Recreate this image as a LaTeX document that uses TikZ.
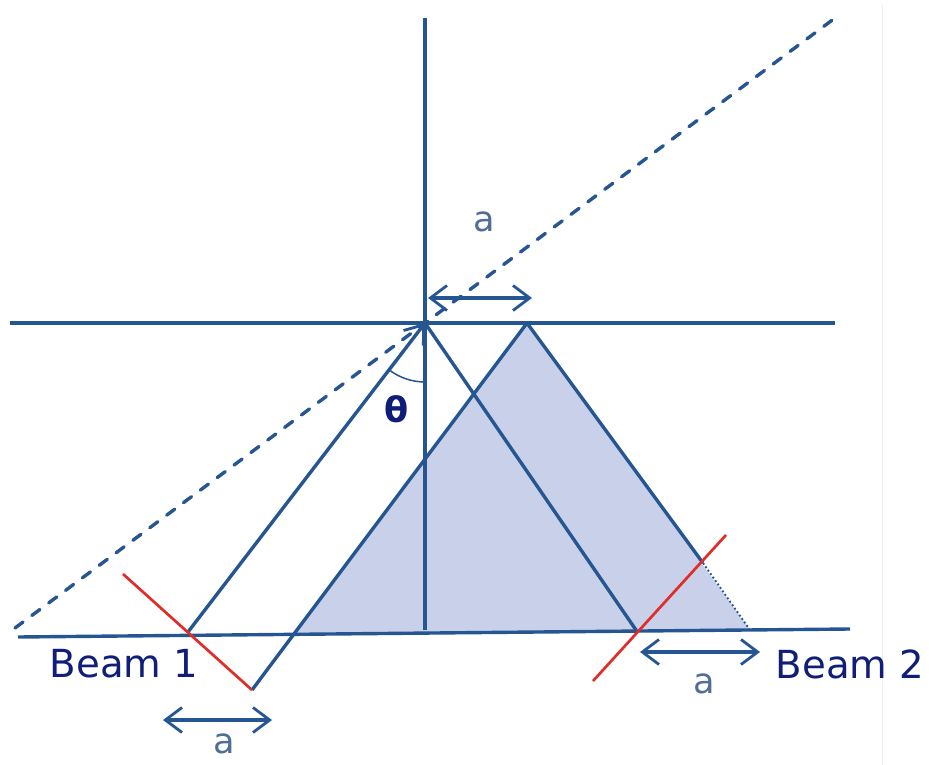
\documentclass[tikz,border=0pt]{standalone}
\usepackage{fontspec}
\setmainfont{DejaVu Sans}
\usetikzlibrary{arrows.meta}

\definecolor{beamblue}{RGB}{38,86,145}
\definecolor{navy}{RGB}{16,30,120}
\definecolor{prismfill}{RGB}{200,208,234}
\definecolor{cutred}{RGB}{225,45,40}
\definecolor{labelgrey}{RGB}{80,110,150}

\tikzset{
  barb/.tip={Straight Barb[length=5mm,width=7.5mm,line width=2.4pt]},
  ray/.style={draw=beamblue, line width=2.9pt},
  front/.style={draw=cutred, line width=2.3pt},
  span/.style={draw=beamblue, line width=2.9pt, barb-barb},
  lab/.style={text=labelgrey, font=\fontsize{30}{36}\selectfont},
  beam/.style={text=navy, font=\fontsize{33}{38}\selectfont}
}

\begin{document}
\begin{tikzpicture}[x=0.03cm,y=-0.03cm]
    \useasboundingbox (0,0) rectangle (929,765);

    % Axes and surfaces
    \coordinate (O) at (425,323);
    \coordinate (vtop) at (425,18);
    \coordinate (vfoot) at (425,630);
    \coordinate (hl) at (10,323);
    \coordinate (hr) at (835,323);
    \coordinate (bl) at (18,637);
    \coordinate (br) at (850,629);
    \coordinate (dl) at (15,628);
    \coordinate (dr) at (835,18);
    \coordinate (edge) at (882,5);
    \coordinate (edgefoot) at (882,765);

    % Shaded triangle
    \coordinate (P) at (527,323);
    \coordinate (Q) at (295,633);
    \coordinate (R) at (750,630);
    \coordinate (S) at (252,690);
    \coordinate (T) at (703,563);

    % Beam points and wave fronts
    \coordinate (in1) at (188,632);
    \coordinate (out2) at (636,630);
    \coordinate (r1a) at (123,574);
    \coordinate (r1b) at (252,690);
    \coordinate (r2a) at (593,681);
    \coordinate (r2b) at (726,535);

    \draw[gray!12, line width=0.6pt] (edge) -- (edgefoot);

    \fill[prismfill] (P) -- (Q) -- (R) -- cycle;

    \draw[ray] (vtop) -- (vfoot);
    \draw[ray] (hl) -- (hr);
    \draw[ray] (bl) -- (br);
    \draw[ray, dash pattern=on 0.3cm off 0.33cm, line cap=round] (dl) -- (dr);

    \draw[ray] (P) -- (S);
    \draw[ray] (P) -- (T);
    \draw[draw=beamblue, line width=1.6pt, dotted] (T) -- (R);

    \draw[ray, -barb] (in1) -- (O);
    \draw[ray] (O) -- (out2);

    \draw[front] (r1a) -- (r1b);
    \draw[front] (r2a) -- (r2b);

    % Angle
    \draw[draw=beamblue, line width=1.3pt] (O) ++(90:59) arc[start angle=90, end angle=127.5, radius=59];
    \node[text=navy, font=\bfseries\fontsize{30}{34}\selectfont] (theta) at (397,409) {θ};

    % Spacing arrows
    \coordinate (at1) at (428,298);
    \coordinate (at2) at (532,298);
    \coordinate (al1) at (163,720);
    \coordinate (al2) at (272,720);
    \coordinate (ar1) at (640,652);
    \coordinate (ar2) at (760,652);
    \draw[span] (at1) -- (at2);
    \draw[span] (al1) -- (al2);
    \draw[span] (ar1) -- (ar2);
    \node[lab] (atop) at (484,222) {a};
    \node[lab] (aleft) at (224,744) {a};
    \node[lab] (aright) at (704,684) {a};

    % Beam labels
    \node[beam] (beam1) at (124,664) {Beam 1};
    \node[beam] (beam2) at (850,664) {Beam 2};
\end{tikzpicture}
\end{document}
